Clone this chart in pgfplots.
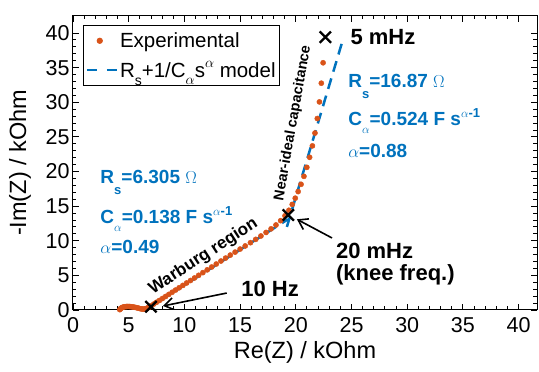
\documentclass[border=0pt]{standalone}
\usepackage{fontspec}
\setmainfont{Liberation Sans}
\usepackage{pgfplots}
\pgfplotsset{compat=1.18}
\usetikzlibrary{arrows.meta}
\definecolor{mblue}{HTML}{0072BD}
\definecolor{morange}{HTML}{D95319}
\newcommand{\rs}[3]{\raisebox{#1}{\fontsize{#2}{#2}\selectfont #3}}
\begin{document}
\begin{tikzpicture}
\begin{axis}[
 at={(0pt,0pt)}, anchor=south west,
 scale only axis, width=464pt, height=294.3pt,
 xmin=0, xmax=41.65, ymin=0, ymax=42.5,
 xtick={0,5,...,40}, ytick={0,5,...,40},
 minor tick num=4,
 tick align=inside, tick pos=both,
 major tick length=6pt, minor tick length=3.5pt,
 every tick/.style={black, line width=0.9pt},
 axis line style={line width=1pt},
 /pgf/number format/assume math mode=true,
 ticklabel style={font=\fontsize{21.5}{25}\selectfont},
 xticklabel style={yshift=-4pt},
 xlabel={Re(Z) / kOhm}, ylabel={-Im(Z) / kOhm},
 label style={font=\fontsize{23.5}{27}\selectfont},
 xlabel style={at={(axis description cs:0.5,-0.1427)}, anchor=center},
 ylabel style={at={(axis description cs:-0.1142,0.5)}, anchor=center},
 legend style={at={(0.0216,0.968)}, anchor=north west, draw=black, line width=1pt,
   font=\fontsize{20.5}{24}\selectfont, inner xsep=2pt, inner ysep=5pt, row sep=8pt,
   cells={anchor=west}},
 legend cell align=left,
]
\addplot[only marks, mark=*, mark size=2.6pt, color=morange,
  mark options={draw=morange, fill=morange},
  legend image code/.code={\path (0pt,0pt) (30pt,0pt); \fill[morange] (13pt,0pt) circle (2.6pt);}]
 coordinates {
(4.20,0.05) (4.25,0.15) (4.30,0.25) (4.38,0.33) (4.47,0.40) (4.57,0.45) (4.68,0.48)
(4.80,0.50) (4.93,0.51) (5.06,0.50) (5.19,0.48) (5.32,0.45) (5.45,0.42) (5.58,0.38)
(5.71,0.33) (5.84,0.28) (5.97,0.22) (6.10,0.17) (6.22,0.14) (6.34,0.13) (6.46,0.15)
(6.57,0.20) (6.67,0.27) (6.77,0.36) (6.87,0.45)
(7.00,0.60) (7.25,0.86) (7.50,1.12) (7.76,1.38) (8.03,1.66) (8.31,1.95) (8.60,2.25)
(8.90,2.56) (9.21,2.88) (9.53,3.21) (9.86,3.55) (10.20,3.90) (10.55,4.26) (10.91,4.63)
(11.28,5.01) (11.66,5.40) (12.05,5.80) (12.45,6.21) (12.86,6.64) (13.28,7.07) (13.70,7.50)
(14.12,7.93) (14.55,8.36) (15.00,8.80) (15.46,9.25) (15.93,9.72) (16.40,10.20) (16.87,10.69)
(17.33,11.20) (17.78,11.72) (18.22,12.28) (18.64,12.90) (19.03,13.60) (19.38,14.40)
(19.68,15.25) (19.95,16.15) (20.21,17.10) (20.47,18.15) (20.73,19.30) (20.99,20.60)
(21.24,22.05) (21.49,23.70) (21.72,25.55) (21.93,27.65) (22.12,30.05) (22.29,32.75) (22.45,35.70)
};
\addlegendentry{Experimental}
\addplot[mblue, line width=2.5pt, dash pattern=on 11pt off 7pt,
  legend image code/.code={\draw[mblue, line width=2.5pt, dash pattern=on 10pt off 10pt] (0pt,0pt) -- (30pt,0pt);}]
 coordinates {(6.50,0.00) (19.30,13.10)};
\addlegendentry{R\rs{-8pt}{14}{s}+1/C\rs{-7pt}{14}{$\alpha$}s\rs{10pt}{14}{$\alpha$} model}
\addplot[mblue, line width=2.5pt, dash pattern=on 11pt off 7pt, forget plot]
 coordinates {(19.20,12.00) (24.20,38.90)};
\addplot[only marks, mark=x, mark size=8pt, black, line width=2.3pt, forget plot,
  mark options={line width=2.3pt, draw=black, solid}]
 coordinates {(22.65,39.40) (19.33,13.72) (7.00,0.48)};

\node[anchor=base west, font=\fontsize{19}{22}\selectfont\bfseries, text=mblue] at (axis cs:2.15,18.3) {R\rs{-11pt}{13}{s}=6.305 $\Omega$};
\node[anchor=base west, font=\fontsize{19}{22}\selectfont\bfseries, text=mblue] at (axis cs:2.15,12.56) {C\rs{-8pt}{13}{$\alpha$}=0.138 F s\rs{8pt}{13}{$\alpha$-1}};
\node[anchor=base west, font=\fontsize{19}{22}\selectfont\bfseries, text=mblue] at (axis cs:2.15,8.1) {$\alpha$=0.49};
\node[anchor=base west, font=\fontsize{19}{22}\selectfont\bfseries, text=mblue] at (axis cs:24.4,32.2) {R\rs{-11pt}{13}{s}=16.87 $\Omega$};
\node[anchor=base west, font=\fontsize{19}{22}\selectfont\bfseries, text=mblue] at (axis cs:24.4,26.7) {C\rs{-8pt}{13}{$\alpha$}=0.524 F s\rs{8pt}{13}{$\alpha$-1}};
\node[anchor=base west, font=\fontsize{19}{22}\selectfont\bfseries, text=mblue] at (axis cs:24.4,21.95) {$\alpha$=0.88};

\node[anchor=base west, font=\fontsize{22}{26}\selectfont\bfseries] at (axis cs:24.6,38.3) {5 mHz};
\node[anchor=base west, font=\fontsize{22}{26}\selectfont\bfseries] at (axis cs:23.3,7.5) {20 mHz};
\node[anchor=base west, font=\fontsize{22}{26}\selectfont\bfseries] at (axis cs:23.3,4.2) {(knee freq.)};
\node[anchor=base west, font=\fontsize{22}{26}\selectfont\bfseries] at (axis cs:14.8,2.0) {10 Hz};

\node[rotate=33, font=\fontsize{17}{20}\selectfont\bfseries] at (axis cs:11.71,7.73) {Warburg region};
\node[rotate=80, font=\fontsize{14.5}{17}\selectfont\bfseries] at (axis cs:19.75,27.0) {Near-ideal capacitance};

\draw[-{Straight Barb[length=9pt,width=12pt]}, line width=1.6pt] (axis cs:23.25,10.4) -- (axis cs:20.1,13.1);
\draw[-{Straight Barb[length=9pt,width=12pt]}, line width=1.6pt] (axis cs:13.8,2.45) -- (axis cs:8.08,0.58);
\end{axis}
\pgfresetboundingbox
\path[use as bounding box] (-73pt,-62pt) rectangle (466pt,310pt);
\end{tikzpicture}
\end{document}
